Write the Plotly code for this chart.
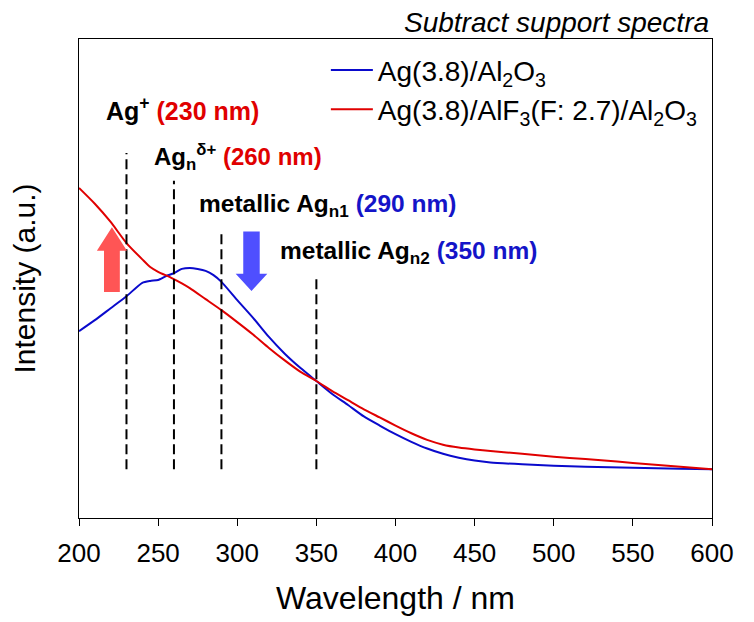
import plotly.graph_objects as go

# ---------------- data ----------------
wl_blue = [200, 210, 220, 230, 240, 245, 250, 255, 260, 265, 270, 275, 280, 285, 290,
           300, 310, 320, 330, 340, 350, 360, 370, 380, 390, 400, 410, 420, 430, 440,
           450, 460, 480, 500, 520, 550, 580, 600]
int_blue = [39.0, 41.3, 43.8, 46.3, 49.1, 49.5, 49.7, 50.5, 51.1, 52.0, 52.2, 52.0, 51.6, 50.7, 49.3,
            45.5, 41.8, 37.8, 34.3, 31.3, 28.6, 25.9, 23.6, 21.2, 19.3, 17.5, 15.9, 14.5, 13.4, 12.6,
            12.0, 11.6, 11.2, 10.9, 10.7, 10.5, 10.3, 10.2]

wl_red = [200, 210, 220, 230, 240, 245, 250, 258, 265, 270, 280, 290, 300, 310, 320,
          330, 340, 350, 360, 370, 380, 390, 400, 410, 420, 430, 440, 450, 460, 480, 500,
          520, 540, 560, 580, 600]
int_red = [68.9, 65.6, 61.8, 57.4, 54.0, 52.4, 51.4, 50.2, 49.0, 48.0, 45.7, 43.4, 40.9, 38.3, 35.5,
           32.9, 30.5, 28.6, 26.5, 24.6, 22.7, 21.0, 19.3, 17.7, 16.3, 15.3, 14.7, 14.3, 14.0, 13.4, 12.8,
           12.3, 11.8, 11.2, 10.7, 10.2]

name_blue = "Ag(3.8)/Al<sub>2</sub>O<sub>3</sub>"
name_red = "Ag(3.8)/AlF<sub>3</sub>(F: 2.7)/Al<sub>2</sub>O<sub>3</sub>"

# reference band positions (nm) and the top of each dashed marker line
band_nm = [230, 260, 290, 350]
band_top = [76.2, 70.4, 60.1, 50.1]
band_bottom = 10.2

band_labels = [
    "<b>Ag<sup>+</sup> <span style='color:#E00000'>(230 nm)</span></b>",
    "<b>Ag<sub>n</sub><sup>δ+</sup> <span style='color:#E00000'>(260 nm)</span></b>",
    "<b>metallic Ag<sub>n1</sub> <span style='color:#1414C8'>(290 nm)</span></b>",
    "<b>metallic Ag<sub>n2</sub> <span style='color:#1414C8'>(350 nm)</span></b>",
]
label_x = [216.0, 246.0, 274.5, 326.0]
label_y = [85.4, 75.4, 65.3, 55.5]
label_size = [25, 24, 24.5, 24.5]

x_ticks = [200, 250, 300, 350, 400, 450, 500, 550, 600]

FONT = "Arial, Liberation Sans, sans-serif"

fig = go.Figure()
fig.add_trace(go.Scatter(x=wl_blue, y=int_blue, mode="lines", name=name_blue,
                         line=dict(color="#0A0ACC", width=2, shape="spline", smoothing=0.6),
                         legendgroup="a"))
fig.add_trace(go.Scatter(x=wl_red, y=int_red, mode="lines", name=name_red,
                         line=dict(color="#E00000", width=2, shape="spline", smoothing=0.6),
                         legendgroup="b"))

# dashed band markers
for xb, yt in zip(band_nm, band_top):
    fig.add_shape(type="line", xref="x", yref="y", x0=xb, x1=xb, y0=band_bottom, y1=yt,
                  line=dict(color="black", width=2, dash="10px,5px"))

# band labels
for txt, xl, yl, fs in zip(band_labels, label_x, label_y, label_size):
    fig.add_annotation(x=xl, y=yl, xref="x", yref="y", text=txt, showarrow=False,
                       xanchor="left", yanchor="middle",
                       font=dict(family=FONT, size=fs, color="black"))


def block_arrow(cx, y_tail, y_neck, y_tip, shaft_half, head_half):
    pts = [(cx - shaft_half, y_tail), (cx - shaft_half, y_neck), (cx - head_half, y_neck),
           (cx, y_tip), (cx + head_half, y_neck), (cx + shaft_half, y_neck),
           (cx + shaft_half, y_tail)]
    return "M " + " L ".join(f"{px},{py}" for px, py in pts) + " Z"


# increase arrow (red, up) and decrease arrow (blue, down)
fig.add_shape(type="path", xref="x", yref="y",
              path=block_arrow(220.8, 47.2, 55.8, 60.7, 5.0, 9.5),
              fillcolor="#FF5555", line=dict(width=0))
fig.add_shape(type="path", xref="x", yref="y",
              path=block_arrow(309.0, 59.8, 51.0, 47.4, 5.2, 10.0),
              fillcolor="#4F4FFF", line=dict(width=0))

fig.add_annotation(x=0.9985, y=1.035, xref="paper", yref="paper",
                   text="<i>Subtract support spectra</i>", showarrow=False,
                   xanchor="right", yanchor="middle",
                   font=dict(family=FONT, size=28, color="black"))

# page body adds an 8 px offset, so the figure is 8 px smaller and margins shifted
fig.update_layout(
    width=746, height=614,
    margin=dict(l=71, r=42, t=31, b=104, autoexpand=False),
    paper_bgcolor="white", plot_bgcolor="white",
    font=dict(family=FONT, color="black"),
    showlegend=True,
    legend=dict(x=0.39, y=0.987, xanchor="left", yanchor="top",
                bgcolor="rgba(0,0,0,0)", borderwidth=0, itemwidth=42,
                font=dict(family=FONT, size=28, color="black"),
                tracegroupgap=0),
    xaxis=dict(range=[200, 600], tickvals=x_ticks, ticks="outside", ticklen=7,
               tickwidth=1, tickcolor="black", showline=True, linecolor="black",
               linewidth=1, mirror=True, showgrid=False, zeroline=False,
               automargin=False, ticklabelstandoff=5,
               tickfont=dict(family=FONT, size=26, color="black"),
               title=dict(text="Wavelength / nm", font=dict(family=FONT, size=32), standoff=19)),
    yaxis=dict(range=[0, 100], showticklabels=False, ticks="", showline=True,
               linecolor="black", linewidth=1, mirror=True, showgrid=False, zeroline=False,
               automargin=False,
               title=dict(text="Intensity (a.u.)", font=dict(family=FONT, size=30), standoff=33)),
)

fig.write_html("out.html")
